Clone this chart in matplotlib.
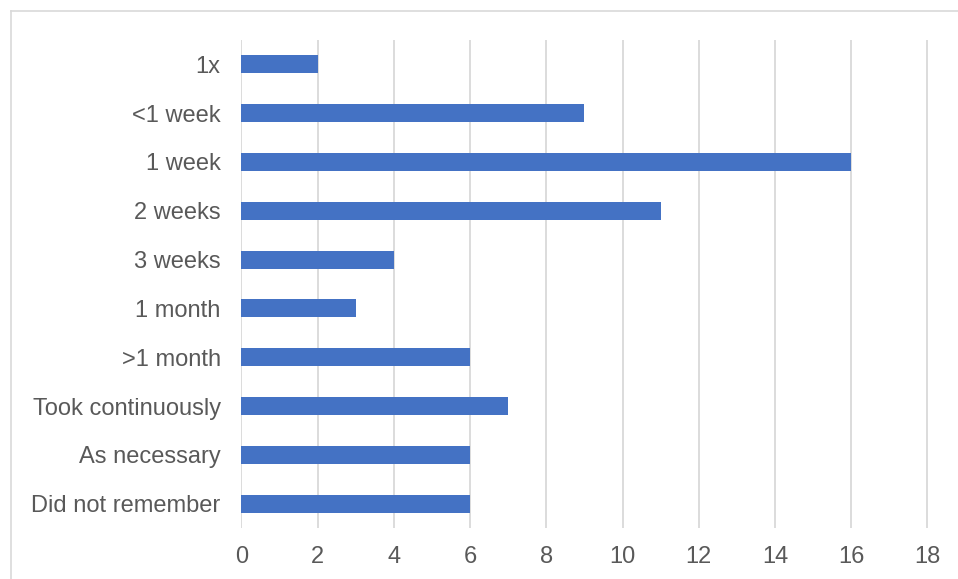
import matplotlib

matplotlib.use("Agg")
import matplotlib.pyplot as plt
from matplotlib.lines import Line2D

# data (top to bottom as shown)
categories = ["1x", "<1 week", "1 week", "2 weeks", "3 weeks", "1 month",
              ">1 month", "Took continuously", "As necessary", "Did not remember"]
counts = [2, 9, 16, 11, 4, 3, 6, 7, 6, 6]
xticks = [0, 2, 4, 6, 8, 10, 12, 14, 16, 18]

BAR = "#4472C4"
TEXT = "#595959"
GRID = "#D9D9D9"

plt.rcParams["font.family"] = ["Liberation Sans", "DejaVu Sans"]

W, H = 958, 579
fig = plt.figure(figsize=(W / 100, H / 100), dpi=100)
ax = fig.add_axes([241.5 / W, 1 - 528 / H, (927.5 - 241.5) / W, 488 / H])

ypos = list(range(len(categories)))[::-1]
ax.barh(ypos, counts, height=0.37, color=BAR, zorder=3)

ax.set_xlim(0, 18)
ax.set_ylim(-0.5, len(categories) - 0.5)
ax.set_xticks(xticks)
ax.set_xticklabels([str(t) for t in xticks])
ax.set_yticks(ypos)
ax.set_yticklabels(categories)
ax.tick_params(axis="both", length=0, labelsize=17, labelcolor=TEXT)
ax.tick_params(axis="y", pad=15)
ax.tick_params(axis="x", pad=13)
ax.grid(axis="x", color=GRID, linewidth=1.3, zorder=0)
for s in ax.spines.values():
    s.set_visible(False)

# chart area border (right and bottom are cut off in the original)
fig.add_artist(Line2D([10.5 / W, 10.5 / W], [0, 1 - 10.5 / H],
                      transform=fig.transFigure, color=GRID, lw=1.2))
fig.add_artist(Line2D([10.5 / W, 1], [1 - 10.5 / H, 1 - 10.5 / H],
                      transform=fig.transFigure, color=GRID, lw=1.2))

fig.savefig("out.png", dpi=100)
